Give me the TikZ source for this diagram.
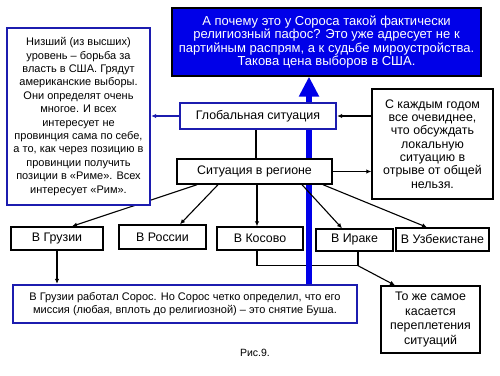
\documentclass[tikz,border=0pt]{standalone}
\usepackage{fontspec}
\setmainfont{Liberation Sans}
\usepackage{xcolor}
\usepackage{tikz}
\usetikzlibrary{arrows.meta,calc,positioning}
\definecolor{fillblue}{RGB}{0,0,232}
\definecolor{lineblue}{RGB}{28,28,175}

\begin{document}
\begin{tikzpicture}[x=1pt,y=-1pt,
  txt/.style={font=\fontsize{12.4}{13.3}\selectfont,align=center,inner sep=0pt},
  small/.style={font=\fontsize{11}{13.4}\selectfont},
  darkbox/.style={txt,draw=black,line width=1.4pt,fill=white},
  bluebox/.style={txt,draw=lineblue,line width=2.4pt,fill=white},
  link/.style={line width=1.1pt,-{Latex[length=5pt,width=4.5pt]}},
  bare/.style={line width=1.1pt}]
  \useasboundingbox[fill=white] (0,0) rectangle (500,375);
  % top statement
  \node[txt,font=\fontsize{13}{13.4}\selectfont,draw=black,line width=1.2pt,fill=fillblue,text=white,minimum width=309pt,minimum height=68pt] (top) at (326.5,42)
    {А почему это у Сороса такой фактически\\религиозный пафос? Это уже адресует не к\\партийным распрям, а к судьбе мироустройства.\\Такова цена выборов в США.};
  \node[bluebox,small,minimum width=344pt,minimum height=38pt] (soros) at (185,304)
    {В Грузии работал Сорос. Но Сорос четко определил, что его\\миссия (любая, вплоть до религиозной) – это снятие Буша.};
  % countries
  \node[darkbox,minimum width=92pt,minimum height=23pt] (geo) at (57,238.5) {В Грузии};
  \node[darkbox,minimum width=87pt,minimum height=24pt] (rus) at (162.5,237) {В России};
  \node[darkbox,minimum width=86pt,minimum height=23pt] (kos) at (260,238.5) {В Косово};
  \node[darkbox,minimum width=77pt,minimum height=22pt] (irq) at (354.5,240) {В Ираке};
  \node[darkbox,minimum width=93pt,minimum height=23pt] (uzb) at (442.5,239.5) {В Узбекистане};
  \coordinate (j) at ([xshift=3.5pt,yshift=-14pt]irq.south);
  \draw[bare] ([xshift=-3pt]kos.south) |- (j) -- (j |- irq.south);
  % thick rising arrow, behind the two middle boxes
  \draw[fillblue,line width=6.5pt,-{Triangle[length=20pt,width=19pt]}]
    ([xshift=124pt]soros.north) -- ([xshift=124pt]soros.north |- top.south);
  \node[bluebox,minimum width=156pt,minimum height=26pt] (glob) at (258,116) {Глобальная ситуация};
  \node[darkbox,minimum width=155pt,minimum height=25pt] (reg) at (254.5,171.5) {Ситуация в регионе};
  \node[darkbox,minimum width=121pt,minimum height=110pt] (note) at (432.5,144)
    {С каждым годом\\все очевиднее,\\что обсуждать\\локальную\\ситуацию в\\отрыве от общей\\нельзя.};
  \draw[link] ([xshift=-57.5pt]reg.south) -- ([xshift=15pt]geo.north);
  % left note goes over the line to Georgia
  \node[bluebox,small,minimum width=143pt,minimum height=177pt] (low) at (78.5,116.5)
    {Низший (из высших)\\уровень – борьба за\\власть в США. Грядут\\американские выборы.\\Они определят очень\\многое. И всех\\интересует не\\провинция сама по себе,\\а то, как через позицию в\\провинции получить\\позиции в «Риме». Всех\\интересует «Рим».};
  \node[darkbox,font=\fontsize{12.4}{14.6}\selectfont,minimum width=99pt,minimum height=67pt] (mix) at (430.5,319.5)
    {То же самое\\касается\\переплетения\\ситуаций};
  \node[font=\fontsize{10.5}{12}\selectfont] (cap) at (255,353) {Рис.9.};

  \draw[link,draw=lineblue] (glob.west) -- (glob.west -| low.east);
  \draw[link] (note.west |- glob) -- (glob.east);
  \draw[link] (reg.east) -- (reg.east -| note.west);
  \draw[bare] ([xshift=-2pt]glob.south) -- ([xshift=-2pt]glob.south |- reg.north);
  \draw[link] ([xshift=-36.5pt]reg.south) -- ([xshift=17.5pt]rus.north);
  \draw[link] ([xshift=2.5pt]reg.south) -- ([xshift=-3pt]kos.north);
  \draw[link] ([xshift=47.5pt]reg.south) -- ([xshift=-12.5pt]irq.north);
  \draw[link] ([xshift=68.5pt]reg.south) -- ([xshift=-15.5pt]uzb.north);
  \draw[link] (geo.south) -- (geo.south |- soros.north);
  \draw[link] (j) -- ([xshift=-35.5pt]mix.north);
\end{tikzpicture}
\end{document}
